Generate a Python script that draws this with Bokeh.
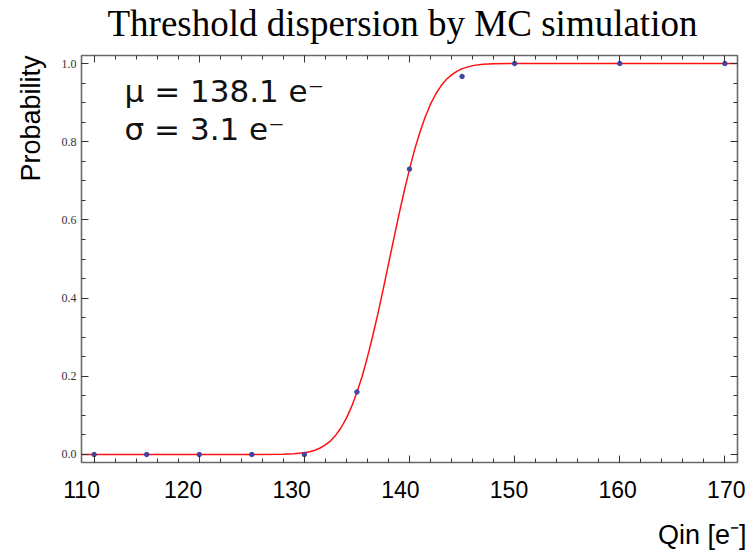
from bokeh.plotting import figure
from bokeh.models import (Range1d, LinearAxis, FixedTicker, PrintfTickFormatter, Label, Title,
                          ColumnDataSource, CustomJSTickFormatter)
from bokeh.embed import file_html
from bokeh.resources import INLINE

# ---- data ----
title_text = "Threshold dispersion by MC simulation"
x_label = "Qin [e⁻]"
y_label = "Probability"
annot_mu = "μ = 138.1 e⁻"
annot_sigma = "σ = 3.1 e⁻"

q_in = [110, 115, 120, 125, 130, 135, 140, 145, 150, 160, 170]
prob = [0.0, 0.0, 0.0, 0.0, 0.0, 0.16, 0.73, 0.967, 1.0, 1.0, 1.0]

fit_q = [108.8, 125, 128, 129, 130, 130.5, 131, 131.5, 132, 132.5, 133, 133.5, 134,
         134.5, 135, 135.5, 136, 136.5, 137, 137.5, 138, 138.5, 139, 139.5, 140,
         140.5, 141, 141.5, 142, 142.5, 143, 143.5, 144, 144.5, 145, 146, 147, 148,
         150, 171.2]
fit_p = [0.0, 0.0, 0.0006, 0.0017, 0.0045, 0.0071, 0.011, 0.0166, 0.0245, 0.035, 0.050,
         0.069, 0.093, 0.123, 0.159, 0.200, 0.249, 0.303, 0.361, 0.423, 0.487, 0.551,
         0.614, 0.674, 0.730, 0.781, 0.825, 0.864, 0.896, 0.922, 0.943, 0.959, 0.971,
         0.980, 0.987, 0.9946, 0.998, 0.9993, 1.0, 1.0]

x_ticks = [110, 120, 130, 140, 150, 160, 170]
x_label_ticks = [110.66, 120, 130, 140, 150, 160, 170]   # slide labels sit slightly off the ticks
x_minor = [110, 112, 114, 116, 118, 120, 122, 124, 126, 128, 130, 132, 134, 136, 138,
           140, 142, 144, 146, 148, 150, 152, 154, 156, 158, 160, 162, 164, 166, 168, 170]
y_ticks = [0.0, 0.2, 0.4, 0.6, 0.8, 1.0]
y_minor = [0.0, 0.05, 0.1, 0.15, 0.2, 0.25, 0.3, 0.35, 0.4, 0.45, 0.5, 0.55, 0.6, 0.65,
           0.7, 0.75, 0.8, 0.85, 0.9, 0.95, 1.0]

# ---- figure ----
p = figure(width=755, height=552,
           x_range=Range1d(108.8, 171.2), y_range=Range1d(-0.0205, 1.0205),
           output_backend="svg", toolbar_location=None,
           x_axis_location=None, y_axis_location=None,
           min_border_left=81, min_border_right=18, min_border_top=55, min_border_bottom=90)
p.extra_x_ranges = {"lab": Range1d(110.65, 171.03)}
p.grid.visible = False
p.background_fill_color = "white"
p.border_fill_color = "white"
p.outline_line_color = "#6a6a6a"
p.outline_line_width = 1.6

p.title.text = title_text
p.title.align = "left"
p.title.offset = 26
p.title.standoff = 0
p.title.text_font = "Liberation Serif"
p.title.text_font_size = "37px"
p.title.text_font_style = "normal"
p.title.text_color = "black"

def tick_style(ax, labels=False):
    ax.axis_line_color = None
    ax.major_tick_in = 7
    ax.major_tick_out = 0
    ax.minor_tick_in = 4
    ax.minor_tick_out = 0
    ax.major_tick_line_color = "#333333"
    ax.minor_tick_line_color = "#333333"
    if not labels:
        ax.major_label_text_color = None
        ax.major_label_text_font_size = "1px"
        ax.major_label_standoff = 0

def spacer_axis(gap, range_name="lab"):
    # an empty axis whose (invisible) outward tick only reserves space
    ax = LinearAxis(x_range_name=range_name, ticker=FixedTicker(ticks=[140], minor_ticks=[]))
    ax.axis_line_color = None
    ax.major_tick_in = 0
    ax.major_tick_out = gap
    ax.major_tick_line_color = None
    ax.minor_tick_line_color = None
    ax.major_label_text_color = None
    ax.major_label_text_font_size = "1px"
    ax.major_label_standoff = 0
    return ax

yl = LinearAxis(ticker=FixedTicker(ticks=y_ticks, minor_ticks=y_minor),
                formatter=PrintfTickFormatter(format="%.1f"))
tick_style(yl, labels=True)
yl.major_label_text_font = "Liberation Serif"
yl.major_label_text_font_size = "12px"
yl.major_label_text_color = "#333333"
yl.major_label_standoff = 5
p.add_layout(yl, "left")

yr = LinearAxis(ticker=FixedTicker(ticks=y_ticks, minor_ticks=y_minor))
tick_style(yr)
p.add_layout(yr, "right")

xb = LinearAxis(ticker=FixedTicker(ticks=x_ticks, minor_ticks=x_minor))
tick_style(xb)
p.add_layout(xb, "below")

xt = LinearAxis(ticker=FixedTicker(ticks=x_ticks, minor_ticks=x_minor))
tick_style(xt)
p.add_layout(xt, "above")
p.add_layout(spacer_axis(12), "above")

xlab = LinearAxis(x_range_name="lab", ticker=FixedTicker(ticks=x_label_ticks, minor_ticks=[]),
                  formatter=CustomJSTickFormatter(code="return (Math.round(tick / 10) * 10).toString()"))
xlab.axis_line_color = None
xlab.major_tick_in = 0
xlab.major_tick_out = 0
xlab.major_label_text_font = "Liberation Sans"
xlab.major_label_text_font_size = "23px"
xlab.major_label_text_color = "black"
xlab.major_label_standoff = 18
p.add_layout(xlab, "below")
p.add_layout(spacer_axis(16), "below")

tq = Title(text=x_label, align="right", text_font="Liberation Sans",
           text_font_size="27px", text_font_style="normal", text_color="black",
           standoff=2, offset=-9)
p.add_layout(tq, "below")

tp = Title(text=y_label, align="right", text_font="Liberation Sans",
           text_font_size="27px", text_font_style="normal", text_color="black",
           standoff=25)
p.add_layout(tp, "left")

fit_src = ColumnDataSource(dict(q=fit_q, p=fit_p))
pt_src = ColumnDataSource(dict(q=q_in, p=prob))
p.line("q", "p", source=fit_src, line_color="#ff1010", line_width=1.5)
p.scatter("q", "p", source=pt_src, size=4.5, fill_color="#4444a4", line_color="#4444a4")

for txt, yv in [(annot_mu, 0.93), (annot_sigma, 0.833)]:
    p.add_layout(Label(x=112.9, y=yv, text=txt, text_font="DejaVu Sans",
                       text_font_size="31px", text_color="#111111",
                       text_baseline="alphabetic"))

open("out.html", "w").write(file_html(p, INLINE))
